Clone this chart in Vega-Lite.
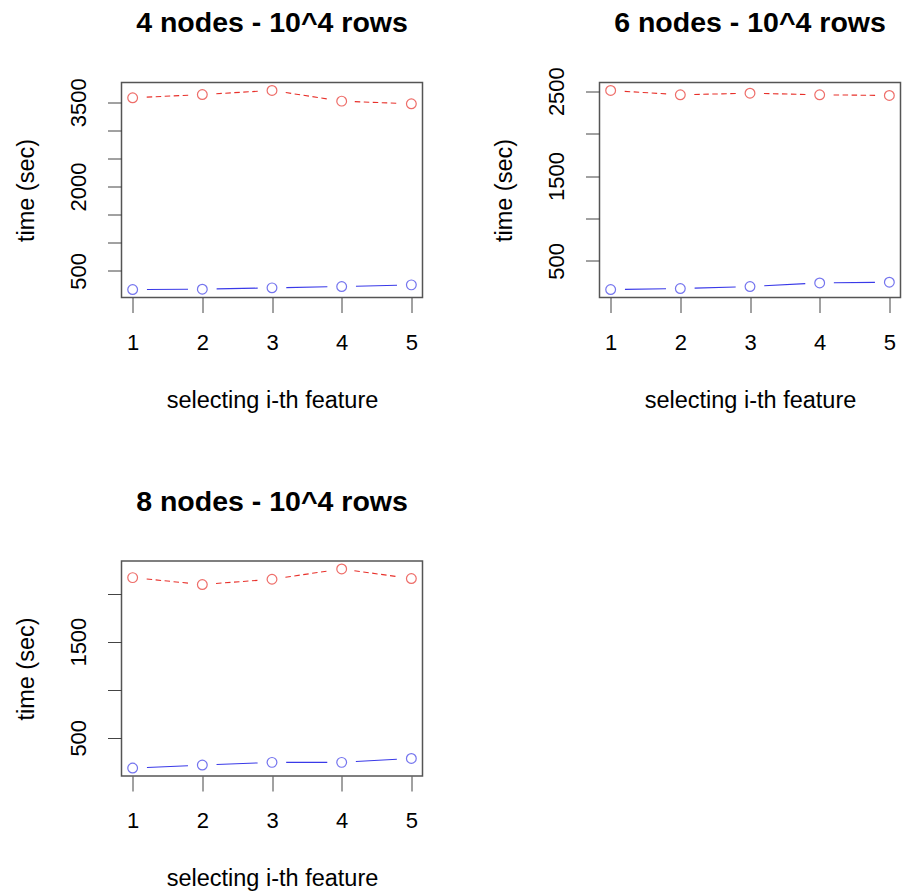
{
  "$schema": "https://vega.github.io/schema/vega-lite/v6.json",
  "autosize": {"type": "none"},
  "padding": {"left": 121.5, "top": 82.5, "right": 780.5, "bottom": 810.5},
  "background": "white",
  "config": {
    "font": "Liberation Sans",
    "view": {"stroke": "#555555", "strokeWidth": 1.5},
    "title": {"fontSize": 28.5, "fontWeight": "bold", "color": "#000000", "baseline": "alphabetic", "anchor": "middle", "frame": "group"},
    "axis": {"grid": false, "domain": false, "tickColor": "#444444", "labelColor": "#000000", "titleColor": "#000000", "labelFontSize": 22, "titleFontSize": 23.5, "titleFontWeight": "normal", "labelOverlap": false, "labelFlush": false},
    "axisX": {"tickSize": 15, "labelPadding": 36.8, "labelBaseline": "alphabetic", "titleY": 109.5, "titleBaseline": "alphabetic", "titleAlign": "center"},
    "axisY": {"tickSize": 14, "labelPadding": 22, "labelAngle": 270, "labelAlign": "center", "labelBaseline": "alphabetic", "titleAngle": 270, "titleX": -88.5, "titleY": 107.5, "titleAlign": "center", "titleBaseline": "alphabetic"}
  },
  "datasets": {
    "p4": [
      {"feature": 1, "series": "dashed", "time": 3577}, {"feature": 2, "series": "dashed", "time": 3636}, {"feature": 3, "series": "dashed", "time": 3708}, {"feature": 4, "series": "dashed", "time": 3518}, {"feature": 5, "series": "dashed", "time": 3470},
      {"feature": 1, "series": "solid", "time": 168}, {"feature": 2, "series": "solid", "time": 174}, {"feature": 3, "series": "solid", "time": 198}, {"feature": 4, "series": "solid", "time": 221}, {"feature": 5, "series": "solid", "time": 251}
    ],
    "p6": [
      {"feature": 1, "series": "dashed", "time": 2508}, {"feature": 2, "series": "dashed", "time": 2457}, {"feature": 3, "series": "dashed", "time": 2476}, {"feature": 4, "series": "dashed", "time": 2457}, {"feature": 5, "series": "dashed", "time": 2449},
      {"feature": 1, "series": "solid", "time": 163}, {"feature": 2, "series": "solid", "time": 175}, {"feature": 3, "series": "solid", "time": 198}, {"feature": 4, "series": "solid", "time": 241}, {"feature": 5, "series": "solid", "time": 249}
    ],
    "p8": [
      {"feature": 1, "series": "dashed", "time": 2166}, {"feature": 2, "series": "dashed", "time": 2094}, {"feature": 3, "series": "dashed", "time": 2149}, {"feature": 4, "series": "dashed", "time": 2256}, {"feature": 5, "series": "dashed", "time": 2156},
      {"feature": 1, "series": "solid", "time": 185}, {"feature": 2, "series": "solid", "time": 216}, {"feature": 3, "series": "solid", "time": 244}, {"feature": 4, "series": "solid", "time": 244}, {"feature": 5, "series": "solid", "time": 285}
    ]
  },
  "columns": 2,
  "bounds": "flush",
  "spacing": {"row": 263.5, "column": 177},
  "concat": [
    {
      "width": 301, "height": 215,
      "title": {"text": "4 nodes - 10^4 rows", "offset": 40},
      "data": {"name": "p4"},
      "encoding": {
        "x": {"field": "feature", "type": "quantitative", "scale": {"domain": [0.84, 5.16], "nice": false, "zero": false}, "axis": {"values": [1, 2, 3, 4, 5], "title": "selecting i-th feature", "format": "d"}},
        "y": {"field": "time", "type": "quantitative", "scale": {"domain": [26.4, 3849.6], "nice": false, "zero": false}, "axis": {"values": [500, 1000, 1500, 2000, 2500, 3000, 3500], "format": "d", "labelExpr": "indexof([500, 2000, 3500], datum.value) >= 0 ? datum.label : ''", "title": "time (sec)"}}
      },
      "layer": [
        {"transform": [{"filter": "datum.series === 'dashed'"}], "mark": {"type": "line", "color": "#e8302a", "strokeWidth": 1.1, "strokeDash": [5.5, 3.5, 5.5, 3.5, 5.5, 3.5, 5.5, 3.5, 5.5, 28.18], "strokeDashOffset": 55.59}},
        {"transform": [{"filter": "datum.series === 'solid'"}], "mark": {"type": "line", "color": "#3a3ae8", "strokeWidth": 1.1, "strokeDash": [41.08, 28.6], "strokeDashOffset": 55.38}},
        {"mark": {"type": "point", "shape": "circle", "filled": false, "size": 95, "strokeWidth": 1.2}, "encoding": {"color": {"field": "series", "type": "nominal", "scale": {"domain": ["dashed", "solid"], "range": ["#e8302a", "#3a3ae8"]}, "legend": null}}}
      ]
    },
    {
      "width": 301, "height": 215,
      "title": {"text": "6 nodes - 10^4 rows", "offset": 29},
      "data": {"name": "p6"},
      "encoding": {
        "x": {"field": "feature", "type": "quantitative", "scale": {"domain": [0.84, 5.16], "nice": false, "zero": false}, "axis": {"values": [1, 2, 3, 4, 5], "title": "selecting i-th feature", "format": "d"}},
        "y": {"field": "time", "type": "quantitative", "scale": {"domain": [69.2, 2601.8], "nice": false, "zero": false}, "axis": {"values": [500, 1000, 1500, 2000, 2500], "format": "d", "labelExpr": "indexof([500, 1500, 2500], datum.value) >= 0 ? datum.label : ''", "title": "time (sec)"}}
      },
      "layer": [
        {"transform": [{"filter": "datum.series === 'dashed'"}], "mark": {"type": "line", "color": "#e8302a", "strokeWidth": 1.1, "strokeDash": [5.5, 3.5, 5.5, 3.5, 5.5, 3.5, 5.5, 3.5, 5.5, 28.18], "strokeDashOffset": 55.59}},
        {"transform": [{"filter": "datum.series === 'solid'"}], "mark": {"type": "line", "color": "#3a3ae8", "strokeWidth": 1.1, "strokeDash": [41.08, 28.6], "strokeDashOffset": 55.38}},
        {"mark": {"type": "point", "shape": "circle", "filled": false, "size": 95, "strokeWidth": 1.2}, "encoding": {"color": {"field": "series", "type": "nominal", "scale": {"domain": ["dashed", "solid"], "range": ["#e8302a", "#3a3ae8"]}, "legend": null}}}
      ]
    },
    {
      "width": 301, "height": 215,
      "title": {"text": "8 nodes - 10^4 rows", "offset": 44.5},
      "data": {"name": "p8"},
      "encoding": {
        "x": {"field": "feature", "type": "quantitative", "scale": {"domain": [0.84, 5.16], "nice": false, "zero": false}, "axis": {"values": [1, 2, 3, 4, 5], "title": "selecting i-th feature", "format": "d"}},
        "y": {"field": "time", "type": "quantitative", "scale": {"domain": [102.2, 2338.8], "nice": false, "zero": false}, "axis": {"values": [500, 1000, 1500, 2000], "format": "d", "labelExpr": "indexof([500, 1500], datum.value) >= 0 ? datum.label : ''", "title": "time (sec)"}}
      },
      "layer": [
        {"transform": [{"filter": "datum.series === 'dashed'"}], "mark": {"type": "line", "color": "#e8302a", "strokeWidth": 1.1, "strokeDash": [5.5, 3.5, 5.5, 3.5, 5.5, 3.5, 5.5, 3.5, 5.5, 28.18], "strokeDashOffset": 55.59}},
        {"transform": [{"filter": "datum.series === 'solid'"}], "mark": {"type": "line", "color": "#3a3ae8", "strokeWidth": 1.1, "strokeDash": [41.08, 28.6], "strokeDashOffset": 55.38}},
        {"mark": {"type": "point", "shape": "circle", "filled": false, "size": 95, "strokeWidth": 1.2}, "encoding": {"color": {"field": "series", "type": "nominal", "scale": {"domain": ["dashed", "solid"], "range": ["#e8302a", "#3a3ae8"]}, "legend": null}}}
      ]
    }
  ]
}
